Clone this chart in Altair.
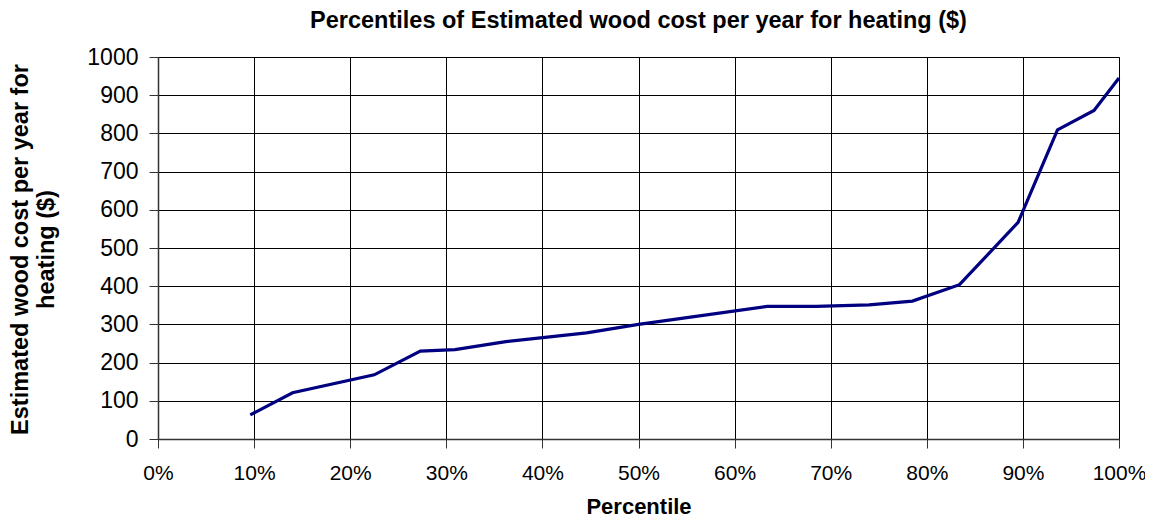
import altair as alt
import pandas as pd

percentile = [0.096, 0.140, 0.225, 0.273, 0.309, 0.362, 0.446, 0.500, 0.634,
              0.685, 0.740, 0.785, 0.834, 0.895, 0.936, 0.974, 1.000]
cost = [63, 121, 168, 230, 234, 255, 278, 300, 347,
        347, 351, 361, 404, 567, 809, 860, 945]
x_ticks = [i / 10 for i in range(11)]
y_ticks = list(range(0, 1001, 100))

df = pd.DataFrame({"Percentile": percentile, "Cost": cost})

FONT = "Liberation Sans"

chart = alt.Chart(df).mark_line(color="#000080", strokeWidth=3.2).encode(
    x=alt.X("Percentile:Q",
            scale=alt.Scale(domain=[0, 1], nice=False),
            axis=alt.Axis(format=".0%", values=x_ticks, labelFlush=False,
                          title="Percentile", titleBaseline="alphabetic",
                          titleY=74, labelFontSize=21, labelPadding=14)),
    y=alt.Y("Cost:Q",
            scale=alt.Scale(domain=[0, 1000], nice=False),
            axis=alt.Axis(values=y_ticks, format="d",
                          title=["Estimated wood cost per year for", "heating ($)"],
                          titleAngle=-90, titleX=-150, titleY=192,
                          titleAlign="center", titleBaseline="top",
                          titleLineHeight=26, titleFontSize=23.5,
                          labelFontSize=23, labelPadding=11)),
).properties(
    width=961, height=382,
    title=alt.TitleParams("Percentiles of Estimated wood cost per year for heating ($)",
                          font=FONT, fontSize=23.5, fontWeight="bold", color="black",
                          anchor="middle", offset=16, baseline="alphabetic", dy=21),
    autosize=alt.AutoSizeParams(type="none"),
    padding={"left": 150, "top": 49, "right": 26, "bottom": 78},
).configure_view(
    stroke="#808080", strokeWidth=1
).configure_axis(
    labelFont=FONT, labelColor="black",
    titleFont=FONT, titleFontSize=22, titleFontWeight="bold", titleColor="black",
    grid=True, gridColor="black", gridWidth=1, gridOpacity=1,
    domainColor="#333333", domainWidth=1.5,
    tickColor="#333333", tickSize=9, tickWidth=1,
)

chart.save("out.html", embed_options={"renderer": "svg", "actions": False})
